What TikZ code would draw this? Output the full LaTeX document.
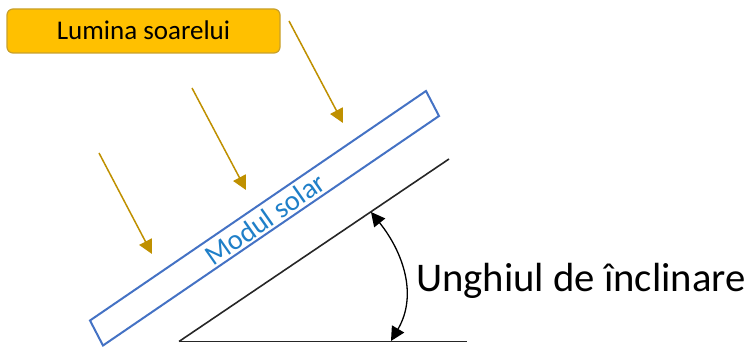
\documentclass[tikz,border=0pt]{standalone}
\usepackage{fontspec}
\setmainfont{Carlito}
\usetikzlibrary{arrows.meta}
\definecolor{sunfill}{HTML}{FFC000}
\definecolor{sunline}{HTML}{C8A02A}
\definecolor{raycol}{HTML}{BF9000}
\definecolor{panelblue}{HTML}{4472C4}
\definecolor{labelblue}{HTML}{1F7FC8}
\definecolor{linegrey}{HTML}{262626}
\tikzset{
  x=1pt,y=-1pt,
  sunbox/.style={draw=sunline,fill=sunfill,line width=1.2pt,rounded corners=6pt,minimum width=273pt,minimum height=44pt,inner sep=0pt,text=black,font=\fontsize{27}{30}\selectfont},
  ray/.style={draw=raycol,line width=1.5pt,-{Triangle[length=14pt,width=14pt,fill=raycol]}},
  panel/.style={draw=panelblue,line width=2pt},
  base/.style={draw=linegrey,line width=1.6pt},
  anglearc/.style={draw=black,line width=1.3pt,{Triangle[length=14pt,width=14pt]}-{Triangle[length=14pt,width=14pt]}},
  paneltext/.style={text=labelblue,rotate=35,inner sep=0pt,font=\fontsize{28.5}{32}\selectfont},
  angletext/.style={text=black,inner sep=0pt,font=\fontsize{40.7}{46}\selectfont}
}
\begin{document}
\begin{tikzpicture}
\useasboundingbox (0,0) rectangle (750,347);
\node[sunbox] (sun) at (143.5,31) {\raisebox{1.5pt}{Lumina soarelui}};
\coordinate (r1a) at (289,21); \coordinate (r1b) at (343,123);
\coordinate (r2a) at (192,88); \coordinate (r2b) at (246,190);
\coordinate (r3a) at (99,153); \coordinate (r3b) at (152,254);
\draw[ray] (r1a) -- (r1b);
\draw[ray] (r2a) -- (r2b);
\draw[ray] (r3a) -- (r3b);
\draw[panel] (90,320.5) -- (103,345.5) -- (439,116) -- (426,91) -- cycle;
\node[paneltext] (modul) at (265,219) {Modul solar};
\coordinate (o) at (179,341.5);
\coordinate (t) at (449,159);
\coordinate (h) at (467,341.5);
\draw[base] (o) -- (t);
\draw[base] (o) -- (h);
\coordinate (a1) at (371,212);
\coordinate (a2) at (391,341);
\draw[anglearc] (a1) .. controls (403,252) and (418,295) .. (a2);
\node[angletext,anchor=center] (unghi) at (581,281) {Unghiul de înclinare};
\end{tikzpicture}
\end{document}
